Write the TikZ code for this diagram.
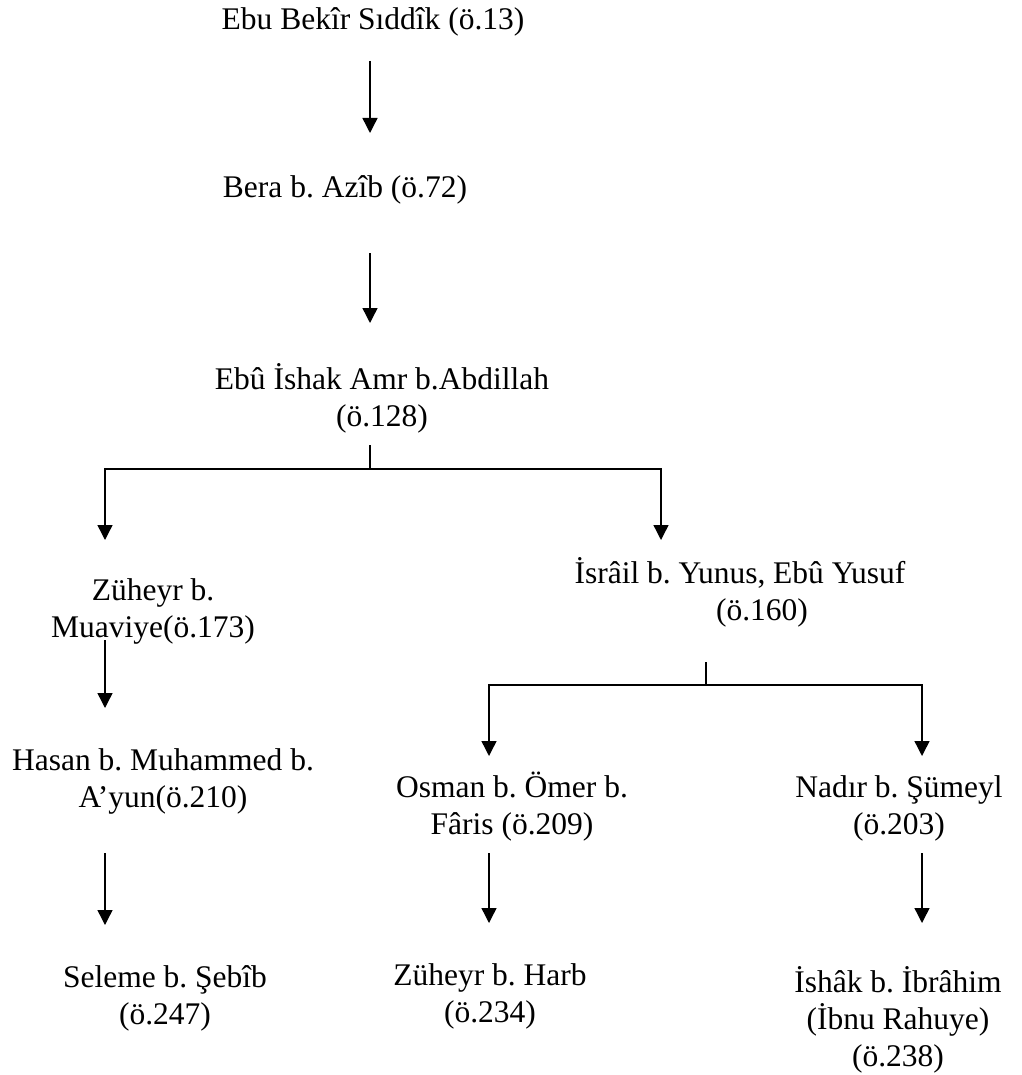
\documentclass[tikz,border=0pt]{standalone}
\usepackage{fontspec}
\setmainfont{Liberation Serif}
\usetikzlibrary{arrows.meta}
\frenchspacing
\begin{document}
\begin{tikzpicture}[x=1pt,y=-1pt,
  lbl/.style={inner sep=0pt, align=center, font=\fontsize{31.5}{37}\selectfont\frenchspacing},
  arr/.style={line width=1.4pt, -{Triangle[length=15pt,width=15pt]}},
  ln/.style={line width=1.4pt}]
\useasboundingbox (0,0) rectangle (1021,1075);
% nodes
\node[lbl] (n1) at (373,22) {Ebu Bekîr Sıddîk (ö.13)};
\node[lbl] (n2) at (345,190) {Bera b. Azîb (ö.72)};
\node[lbl] (n3) at (382,398) {Ebû İshak Amr b.Abdillah\\(ö.128)};
\node[lbl] (n4) at (153,611) {Züheyr b.\\Muaviye(ö.173)};
\node[lbl] (n5) at (163,781) {Hasan b. Muhammed b.\\A’yun(ö.210)};
\node[lbl] (n6) at (165,998) {Seleme b. Şebîb\\(ö.247)};
\node[lbl] (n7) at (740,592) {İsrâil b. Yunus, Ebû Yusuf\\\hspace*{44pt}(ö.160)};
\node[lbl] (n8) at (512,807) {Osman b. Ömer b.\\Fâris (ö.209)};
\node[lbl] (n9) at (899,808) {Nadır b. Şümeyl\\(ö.203)};
\node[lbl] (n10) at (490,996) {Züheyr b. Harb\\(ö.234)};
\node[lbl] (n11) at (898,1020) {İshâk b. İbrâhim\\(İbnu Rahuye)\\(ö.238)};
% connector points
\coordinate (a1s) at (370,61);  \coordinate (a1e) at (370,133);
\coordinate (a2s) at (370,253); \coordinate (a2e) at (370,323);
\coordinate (s3) at (370,445);  \coordinate (j3) at (370,469);
\coordinate (jL) at (105,469);  \coordinate (jR) at (661,469);
\coordinate (tL) at (105,540);  \coordinate (tR) at (661,540);
\coordinate (a4s) at (105,640); \coordinate (a4e) at (105,708);
\coordinate (a5s) at (105,853); \coordinate (a5e) at (105,925);
\coordinate (s7) at (706,662);  \coordinate (j7) at (706,685);
\coordinate (j7L) at (489,685); \coordinate (j7R) at (922,685);
\coordinate (t8) at (489,756);  \coordinate (t9) at (922,756);
\coordinate (a8s) at (489,853); \coordinate (a8e) at (489,923);
\coordinate (a9s) at (922,853); \coordinate (a9e) at (922,923);
% connectors
\draw[arr] (a1s) -- (a1e);
\draw[arr] (a2s) -- (a2e);
\draw[ln] (s3) -- (j3);
\draw[arr] (j3) -- (jL) -- (tL);
\draw[arr] (j3) -- (jR) -- (tR);
\draw[arr] (a4s) -- (a4e);
\draw[arr] (a5s) -- (a5e);
\draw[ln] (s7) -- (j7);
\draw[arr] (j7) -- (j7L) -- (t8);
\draw[arr] (j7) -- (j7R) -- (t9);
\draw[arr] (a8s) -- (a8e);
\draw[arr] (a9s) -- (a9e);
\end{tikzpicture}
\end{document}
